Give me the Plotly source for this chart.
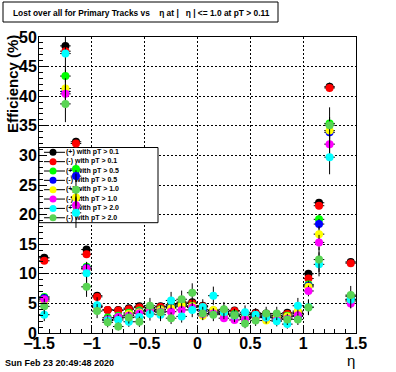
import plotly.graph_objects as go

# ---------------- data ----------------
eta = [-1.45, -1.25, -1.15, -1.05, -0.95, -0.85, -0.75, -0.65, -0.55, -0.45, -0.35, -0.25, -0.15, -0.05,
       0.05, 0.15, 0.25, 0.35, 0.45, 0.55, 0.65, 0.75, 0.85, 0.95, 1.05, 1.15, 1.25, 1.45]

pos_pt01 = [12.7, 48.5, 32.3, 14.1, 6.3, 3.9, 3.9, 4.2, 4.5, 4.3, 4.5, 4.8, 5.2, 5.2,
            4.6, 3.8, 3.7, 3.8, 3.2, 3.4, 3.3, 3.0, 3.4, 3.5, 10.0, 22.0, 41.6, 12.0]
neg_pt01 = [12.2, 47.6, 32.0, 13.3, 6.1, 3.9, 3.8, 4.0, 4.3, 4.1, 4.4, 4.6, 5.0, 5.0,
            4.5, 3.7, 3.6, 3.7, 3.1, 3.3, 3.2, 2.9, 3.2, 3.3, 9.2, 21.5, 41.4, 11.8]
pos_pt05 = [6.1, 43.4, 27.7, 11.2, 4.5, 2.6, 2.9, 3.4, 3.8, 3.9, 4.0, 4.5, 4.8, 4.6,
            4.0, 3.5, 3.3, 3.2, 2.8, 3.0, 3.0, 2.7, 2.9, 3.0, 8.2, 19.2, 35.4, 6.2]
neg_pt05 = [5.9, 40.8, 26.5, 11.0, 4.5, 2.3, 2.6, 3.0, 3.6, 3.8, 3.9, 4.3, 4.5, 4.4,
            3.7, 3.4, 3.1, 3.0, 2.6, 2.8, 2.8, 2.5, 2.7, 2.8, 8.0, 18.4, 33.9, 5.7]
pos_pt10 = [5.4, 41.3, 22.9, 10.8, 4.3, 2.2, 2.5, 3.2, 3.5, 3.7, 3.9, 4.2, 4.6, 4.5,
            2.9, 3.9, 3.2, 2.8, 2.5, 2.6, 2.1, 2.6, 2.8, 3.7, 7.8, 16.7, 34.2, 5.4]
neg_pt10 = [5.7, 40.4, 21.6, 10.9, 4.5, 2.3, 2.7, 2.9, 3.3, 3.6, 3.6, 3.6, 3.9, 4.3,
            3.2, 3.3, 2.5, 2.2, 2.3, 2.7, 2.6, 2.2, 2.4, 3.0, 7.1, 15.3, 31.9, 5.0]
pos_pt20 = [3.1, 47.2, 20.3, 10.1, 4.7, 2.1, 2.2, 1.9, 2.7, 3.2, 3.1, 5.5, 2.8, 3.9,
            4.4, 6.3, 3.5, 2.9, 3.5, 3.1, 2.6, 2.0, 1.5, 4.6, 4.4, 11.6, 29.7, 5.6]
neg_pt20 = [4.5, 38.7, 24.2, 7.8, 3.7, 1.8, 1.1, 2.6, 1.9, 4.6, 3.5, 2.5, 5.7, 6.8,
            3.3, 3.1, 4.0, 3.0, 1.6, 2.1, 3.3, 3.3, 2.3, 2.3, 4.3, 12.4, 35.1, 6.4]

series_values = [pos_pt01, neg_pt01, pos_pt05, neg_pt05, pos_pt10, neg_pt10, pos_pt20, neg_pt20]
series_labels = ["(+) with pT > 0.1", "(-) with pT > 0.1", "(+) with pT > 0.5", "(-) with pT > 0.5",
                 "(+) with pT > 1.0", "(-) with pT > 1.0", "(+) with pT > 2.0", "(-) with pT > 2.0"]
series_colors = ["#000000", "#ff0000", "#00ff00", "#0000ff", "#ffff00", "#ff00ff", "#00ffff", "#59d454"]
# effective track counts per series (used for binomial error bars)
series_counts = [5000, 5000, 2000, 2000, 800, 800, 250, 250]
bin_half_width = 0.05

title_text = ("Lost over all for Primary Tracks vs\u00a0\u00a0\u00a0 \u03b7 at |\u00a0\u00a0 \u03b7 | "
              "<= 1.0 at pT > 0.11")
date_text = "Sun Feb 23 20:49:48 2020"

# ---------------- layout geometry ----------------
W, H = 396, 372
ML, MR, MT, MB = 39, 40, 37, 39
PW, PH = W - ML - MR, H - MT - MB


def fx(px):
    return (px - ML) / PW


def fy(py):
    return (H - MB - py) / PH


FONT = "Liberation Sans"
fig = go.Figure()

# ---- legend (drawn on hidden base axes, underneath the data) ----
box_l, box_r, box_t, box_b = fx(39), fx(158), fy(147.5), fy(222.7)
fig.add_trace(go.Scatter(x=[box_l, box_r, box_r, box_l, box_l], y=[box_b, box_b, box_t, box_t, box_b],
                         mode="lines", fill="toself", fillcolor="white",
                         line=dict(color="black", width=1), xaxis="x", yaxis="y",
                         hoverinfo="skip"))
rows = [fy(152.3 + 9.35 * i) for i in range(len(series_labels))]
dx, dy = [], []
for r in rows:
    dx += [fx(44), fx(65), None]
    dy += [r, r, None]
fig.add_trace(go.Scatter(x=dx, y=dy, mode="lines", line=dict(color="black", width=1),
                         xaxis="x", yaxis="y", hoverinfo="skip"))
fig.add_trace(go.Scatter(x=[fx(53)] * len(rows), y=rows, mode="markers",
                         marker=dict(size=7, color=series_colors, line=dict(width=0)),
                         xaxis="x", yaxis="y", hoverinfo="skip"))
fig.add_trace(go.Scatter(x=[fx(66)] * len(rows), y=rows, mode="text", text=series_labels,
                         textposition="middle right",
                         textfont=dict(family=FONT, size=7, color="black", weight="bold"),
                         xaxis="x", yaxis="y", hoverinfo="skip"))

# ---- data ----
for vals, lab, col, n in zip(series_values, series_labels, series_colors, series_counts):
    errs = [((v / 100) * (1 - v / 100) / n) ** 0.5 * 100 for v in vals]
    fig.add_trace(go.Scatter(
        x=eta, y=vals, mode="markers", name=lab, xaxis="x2", yaxis="y2",
        marker=dict(size=8, color=col, line=dict(width=0)),
        error_y=dict(type="data", array=errs, color="black", thickness=1, width=0),
        error_x=dict(type="constant", value=bin_half_width, color="black", thickness=1, width=0),
        hoverinfo="skip",
    ))

tickfont = dict(family=FONT, size=16, color="black", weight="bold")
fig.update_layout(
    width=W, height=H, margin=dict(l=ML, r=MR, t=MT, b=MB, pad=0),
    paper_bgcolor="white", plot_bgcolor="white", showlegend=False, hovermode=False,
    xaxis=dict(domain=[0, 1], range=[0, 1], visible=False, fixedrange=True),
    yaxis=dict(domain=[0, 1], range=[0, 1], visible=False, fixedrange=True),
    xaxis2=dict(overlaying="x", anchor="y2", range=[-1.5, 1.5], tick0=-1.5, dtick=0.5,
                ticks="inside", ticklen=8, tickcolor="black", tickwidth=1,
                minor=dict(ticks="inside", dtick=0.1, ticklen=4, tickcolor="black", showgrid=False),
                showgrid=True, gridcolor="black", griddash="2px,2px", gridwidth=1,
                showline=True, mirror=True, linecolor="black", linewidth=1, zeroline=False,
                tickfont=tickfont, ticklabelstandoff=-4, fixedrange=True),
    yaxis2=dict(overlaying="y", anchor="x2", range=[0, 50], tick0=0, dtick=5,
                ticks="inside", ticklen=8, tickcolor="black", tickwidth=1,
                minor=dict(ticks="inside", dtick=1, ticklen=4, tickcolor="black", showgrid=False),
                showgrid=True, gridcolor="black", griddash="2px,2px", gridwidth=1,
                showline=True, mirror=True, linecolor="black", linewidth=1, zeroline=False,
                tickfont=tickfont, ticklabelstandoff=-2, fixedrange=True),
)

# title box
fig.add_shape(type="rect", xref="paper", yref="paper", x0=fx(3), x1=fx(278), y0=fy(22), y1=fy(2),
              line=dict(color="black", width=1), fillcolor="white", layer="above")
fig.add_annotation(xref="paper", yref="paper", x=fx(141), y=fy(12.5), text=title_text, showarrow=False,
                   xanchor="center", yanchor="middle",
                   font=dict(family=FONT, size=8.4, color="black", weight="bold"))
# date
fig.add_annotation(xref="paper", yref="paper", x=fx(3), y=fy(363), text=date_text, showarrow=False,
                   xanchor="left", yanchor="middle",
                   font=dict(family=FONT, size=9, color="black", weight="bold"))
# axis titles
fig.add_annotation(xref="paper", yref="paper", x=fx(13), y=fy(33), text="Efficiency (%)", showarrow=False,
                   textangle=-90, xanchor="center", yanchor="top",
                   font=dict(family=FONT, size=15, color="black", weight="bold"))
fig.add_annotation(xref="paper", yref="paper", x=fx(351), y=fy(360), text="\u03b7", showarrow=False,
                   xanchor="center", yanchor="middle",
                   font=dict(family=FONT, size=15, color="black"))

fig.write_html("out.html", post_script="document.body.style.margin='0px';",
               config={"displayModeBar": False, "staticPlot": True})
